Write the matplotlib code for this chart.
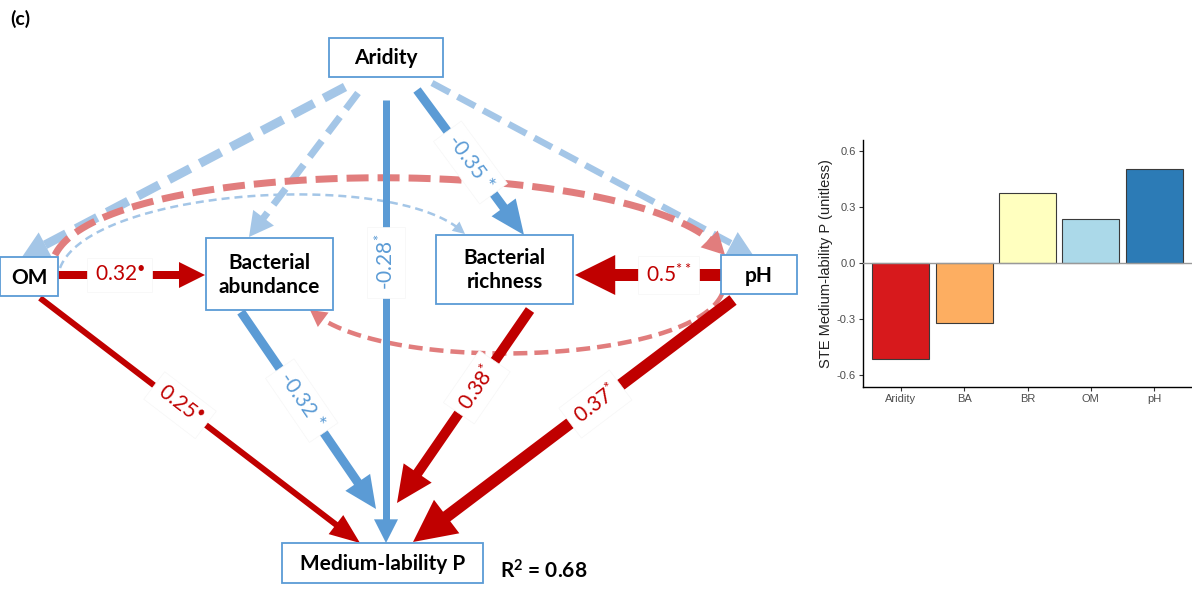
import numpy as np
import matplotlib
matplotlib.use('Agg')
import matplotlib.pyplot as plt
from matplotlib.patches import Rectangle, Polygon

plt.rcParams['font.family'] = ['Lato', 'DejaVu Sans']
plt.rcParams['lines.scale_dashes'] = False
plt.rcParams['mathtext.fontset'] = 'custom'
plt.rcParams['mathtext.rm'] = 'Lato'
plt.rcParams['mathtext.bf'] = 'Lato:bold'

# ---------------- data ----------------
bar_vars = ['Aridity', 'BA', 'BR', 'OM', 'pH']
bar_ste = [-0.515, -0.32, 0.374, 0.234, 0.503]
bar_colors = ['#D7191C', '#FDAE61', '#FFFFBF', '#ABD9E9', '#2C7BB6']
bar_yticks = [-0.6, -0.3, 0.0, 0.3, 0.6]
bar_ylabel = 'STE Medium-lability P (unitless)'

node_keys = ['AR', 'OM', 'BA', 'BR', 'PH', 'MLP']
node_labels = ['Aridity', 'OM', 'Bacterial\nabundance', 'Bacterial\nrichness', 'pH', 'Medium-lability P']

sig_from = ['OM', 'PH', 'AR', 'AR', 'OM', 'BA', 'BR', 'PH']
sig_to = ['BA', 'BR', 'BR', 'MLP', 'MLP', 'MLP', 'MLP', 'MLP']
sig_coef = ['0.32', '0.5', '-0.35', '-0.28', '0.25', '-0.32', '0.38', '0.37']
sig_mark = ['•', '**', ' *', '*', '•', ' *', '*', '*']

ns_from = ['AR', 'AR', 'AR', 'OM', 'OM', 'PH']
ns_to = ['OM', 'BA', 'PH', 'PH', 'BR', 'BA']
ns_sign = ['-', '-', '-', '+', '-', '+']

r2_value = 0.68

# ---------------- layout (pixels, y downward) ----------------
W, H = 1192, 590
node_box = {
    'AR': (329, 38, 443, 77),
    'OM': (0, 257, 58, 296),
    'BA': (206, 238, 333, 310),
    'BR': (436, 235, 573, 304),
    'PH': (721, 255, 797, 294),
    'MLP': (282, 543, 483, 583),
}
# significant edges: start, end, width, head length, head half width, label t
sig_geom = [
    ((58, 275), (205, 275), 8, 26, 13, 0.42),
    ((721, 275), (575, 275), 12, 40, 20, 0.36),
    ((417, 90), (524, 235), 9, 34, 15, 0.50),
    ((386, 100), (386, 543), 7, 23, 12, 0.366),
    ((40, 298), (360, 543), 6, 30, 12, 0.4375),
    ((241, 312), (376, 509), 9, 32, 15, 0.45),
    ((530, 310), (397, 503), 10, 36, 17, 0.40),
    ((733, 300), (413, 542), 12, 42, 21, 0.43),
]
# non significant: control points (2 = straight, 4 = cubic), width, dashes, head l, head hw
ns_geom = [
    ([(345, 87), (22, 257)], 9, (24, 11), 26, 14),
    ([(358, 93), (249, 237)], 7, (20, 10), 24, 13),
    ([(432, 83), (753, 255)], 6.5, (20, 9), 24, 13),
    ([(55, 255), (105, 152), (655, 152), (725, 255)], 7, (22, 9), 22, 12),
    ([(60, 268), (90, 188), (400, 168), (465, 234)], 2.5, (8, 5), 12, 6),
    ([(722, 294), (690, 365), (380, 375), (310, 310)], 4.5, (14, 7), 16, 9),
]

BLUE = '#5B9BD5'
RED = '#C00000'
LBLUE = '#A4C6E7'
LRED = '#E17D7D'
PX = 0.72  # points per pixel at dpi 100

fig = plt.figure(figsize=(W / 100, H / 100), dpi=100)
ax = fig.add_axes([0, 0, 1, 1])
ax.set_xlim(0, W)
ax.set_ylim(H, 0)
ax.axis('off')


def curve_points(pts):
    pts = np.asarray(pts, float)
    t = np.linspace(0, 1, 600)[:, None]
    if len(pts) == 2:
        return pts[0] * (1 - t) + pts[1] * t
    p0, p1, p2, p3 = pts
    return ((1 - t) ** 3) * p0 + 3 * ((1 - t) ** 2) * t * p1 + 3 * (1 - t) * t ** 2 * p2 + t ** 3 * p3


def draw_arrow(pts, width, color, hl, hw, dashes=None, z=2):
    c = curve_points(pts)
    tip = c[-1]
    d = np.hypot(*(c - tip).T)
    idx = np.where(d > hl)[0][-1]
    base = c[idx]
    u = (tip - base) / np.linalg.norm(tip - base)
    n = np.array([-u[1], u[0]])
    line = np.vstack([c[:idx + 1], base + u * 2])
    ln, = ax.plot(line[:, 0], line[:, 1], color=color, lw=width * PX,
                  solid_capstyle='butt', dash_capstyle='butt', zorder=z)
    if dashes is not None:
        ln.set_dashes([dashes[0] * PX, dashes[1] * PX])
    ax.add_patch(Polygon([tip, base + n * hw, base - n * hw], closed=True,
                         facecolor=color, edgecolor='none', zorder=z))


# non significant dashed paths
for f, t_, s, (pts, w, dsh, hl, hw) in zip(ns_from, ns_to, ns_sign, ns_geom):
    col = LRED if s == '+' else LBLUE
    draw_arrow(pts, w, col, hl, hw, dashes=dsh, z=2)

# significant paths
for f, t_, coef, mark, (p0, p1, w, hl, hw, lt) in zip(sig_from, sig_to, sig_coef, sig_mark, sig_geom):
    col = BLUE if coef.startswith('-') else RED
    draw_arrow([p0, p1], w, col, hl, hw, z=3)
    p0a, p1a = np.array(p0, float), np.array(p1, float)
    pos = p0a + (p1a - p0a) * lt
    dx, dy = p1a - p0a
    ang = -np.degrees(np.arctan2(dy, dx))
    while ang <= -90:
        ang += 180
    while ang > 90:
        ang -= 180
    if mark.startswith(' '):
        label = coef + mark
    else:
        label = coef + r'$\mathregular{^{' + mark + '}}$'
    ax.text(pos[0], pos[1], label, color=col, fontsize=15, rotation=ang,
            rotation_mode='anchor', ha='center', va='center', zorder=6,
            bbox=dict(boxstyle='square,pad=0.35', facecolor='white',
                      edgecolor='#f6f6f6', linewidth=0.5))

# nodes
for k, lab in zip(node_keys, node_labels):
    x0, y0, x1, y1 = node_box[k]
    ax.add_patch(Rectangle((x0, y0), x1 - x0, y1 - y0, facecolor='white',
                           edgecolor=BLUE, linewidth=1.3, zorder=5))
    ax.text((x0 + x1) / 2, (y0 + y1) / 2 + 1, lab, ha='center', va='center',
            fontsize=15, fontweight='bold', color='black', zorder=7,
            linespacing=1.25)

ax.text(500, 571, r'R$\mathregular{^{2}}$ = ' + f'{r2_value:.2f}', ha='left', va='center',
        fontsize=15, fontweight='bold', color='black')
ax.text(10, 19, '(c)', ha='left', va='center', fontsize=14, fontweight='bold')

# ---------------- bar chart ----------------
ax2 = fig.add_axes([863 / W, 1 - 387 / H, (W - 863) / W, (387 - 140) / H])
xs = np.arange(len(bar_vars))
ax2.bar(xs, bar_ste, width=0.9, color=bar_colors, edgecolor='#3a3a3a', linewidth=0.8, zorder=2)
ax2.axhline(0, color='#999999', lw=1.0, zorder=3)
ax2.set_xlim(-0.6, len(bar_vars) - 0.4)
ax2.set_ylim(-0.665, 0.66)
ax2.set_yticks(bar_yticks)
ax2.set_yticklabels([f'{v:.1f}' for v in bar_yticks])
ax2.set_xticks(xs)
ax2.set_xticklabels(bar_vars)
for sp in ['top', 'right']:
    ax2.spines[sp].set_visible(False)
for sp in ['left', 'bottom']:
    ax2.spines[sp].set_linewidth(1.0)
    ax2.spines[sp].set_color('black')
ax2.tick_params(axis='both', labelsize=8, labelcolor='#4D4D4D', length=3,
                width=0.8, color='#333333', pad=2)
ax2.set_ylabel(bar_ylabel, fontsize=10.5, color='#222222', labelpad=3)
for lbl in ax2.get_xticklabels() + ax2.get_yticklabels():
    lbl.set_family(['Liberation Sans', 'DejaVu Sans'])
ax2.yaxis.label.set_family(['Liberation Sans', 'DejaVu Sans'])

fig.savefig('out.png', dpi=100)
